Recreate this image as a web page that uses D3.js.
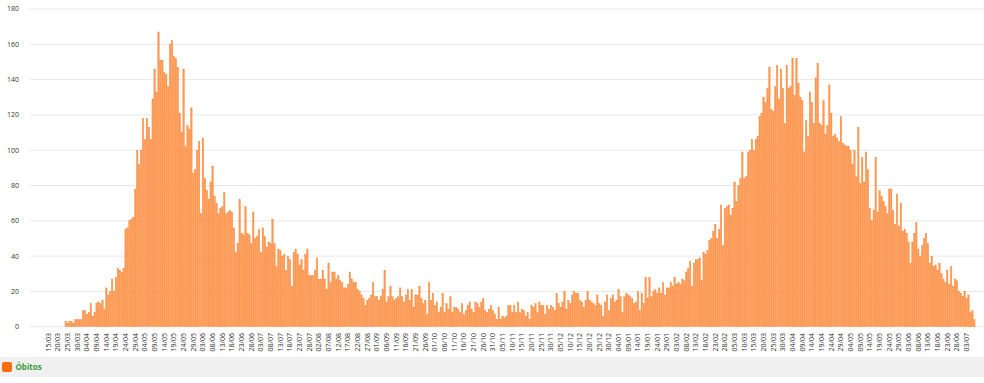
<!DOCTYPE html>
<html><head><meta charset="utf-8">
<script src="https://cdn.jsdelivr.net/npm/d3@7"></script>
<style>
body{margin:0;background:#fff;}
svg{display:block;font-family:"Open Sans",sans-serif;}
</style>
</head><body>
<svg id="chart" width="984" height="383"></svg>
<script>
// ---- data ----
const startDate = "2020-03-15";
const seriesName = "Óbitos";
const leadIn = [0,0,0,0,0,0,0,0,0];
const wave1 = [3,2,3,3,2,4,4,4,4,9,
  9,7,8,13,6,8,13,14,13,15,
  10,22,18,20,27,20,28,33,32,31,
  33,55,56,60,61,62,78,100,92,100,
  118,106,118,113,106,129,146,133,167,151,
  151,144,143,136,160,162,153,152,147,121,
  110,146,102,114,112,124,87,89,100,105,
  64,107,84,77,72,82,91,74,70,64,
  67,68,76,64,65,66,65,56,42,47,72,
  53,52,68,53,52,47,65,50,51,55,
  42,56,51,45,48,47,61,47,34,44,43,
  40,41,32,40,38,23,42,44,41,35,38,
  32,41,44,29,29,29,32,39,27,27,
  32,27,21,36,25];
const lull = [31,31,27,29,26,25,22,22,24,31,27,25,25,21,20,18,16,12,15,16,
  18,25,17,17,15,17,21,32,14,17,23,17,15,16,17,22,17,14,18,21,
  15,21,11,18,18,23,16,13,15,7,25];
const trough = [15,19,12,14,8,11,19,8,13,10,
  17,8,11,11,10,8,13,7,9,12,
  14,10,8,14,13,11,14,16,9,8,
  10,12,9,7,4,11,4,6,5,6,
  12,12,8,12,8,14,8,10,9,6,
  8,4,12,11,13,8,14,12,12,7,
  12,10,12,11,9,19,13,11,14,20,
  10,15,13,18,20,19];
const rise = [19,15,14,11,15,20,15,14,13,12,
  18,13,12,6,14,18,9,16,18,14,
  15,21,17,8,17,19,18,17,16,13,
  14,20,9,19,13,28,16,28,17,20,
  21,19,22,19,25,18,22,22,25,23,
  28,24,25,24,27,26,31,33,37,23,
  36,38,38,39,26,42,41,43,49,50,54,58,50,55,69,46,67];
const wave2 = [68,69,63,67,82,71,80,84,99,84,
  85,99,100,106,100,106,108,119,121,130,
  127,135,147,123,122,136,148,129,146,135,
  115,148,135,136,152,131,152,138,130,128,
  99,117,108,133,127,115,141,149,115,114,
  128,109,114,137,121,108,109,107,105,119,
  104,103,102,102,100,92];
const tail = [100,85,113,81,96,82,99,89,67,60,66,96,65,77,74,71,68,64,78,78,66,58,75,57,
  70,54,55,53,48,36,48,53,59,44,40,46,50,53,47,
  36,40,34,35,32,36,30,27,25,32,24,34,23,27,26,20,19,17,20,16,18,8,9,4];
const yTicks = [0,20,40,60,80,100,120,140,160,180];

const values = [].concat(leadIn, wave1, lull, trough, rise, wave2, tail);

// ---- chart ----
const W = 984, H = 383;
const svg = d3.select("#chart");
const start = d3.timeParse("%Y-%m-%d")(startDate);
const fmt = d3.timeFormat("%d/%m");
const categories = values.map((_, i) => fmt(d3.timeDay.offset(start, i)));

const x = d3.scalePoint().domain(d3.range(values.length)).range([48.3, 974.3]);
const bw = x.step() * 0.78;
const y = d3.scaleLinear().domain([0, 180]).range([326.7, 9]);

// grid + y labels
const g = svg.append("g");
g.selectAll("line.grid").data(yTicks).join("line")
  .attr("x1", 30).attr("x2", W)
  .attr("y1", d => y(d)).attr("y2", d => y(d))
  .attr("stroke", "#e8e8e8").attr("stroke-width", 1);
g.selectAll("text.yl").data(yTicks).join("text")
  .attr("x", 19).attr("y", d => y(d)).attr("dy", "0.35em")
  .attr("text-anchor", "end").attr("font-size", 7).attr("fill", "#333")
  .text(d => d);

// bars
svg.append("g").selectAll("rect").data(values).join("rect")
  .attr("x", (d, i) => x(i) - bw / 2)
  .attr("width", bw)
  .attr("y", d => y(d))
  .attr("height", d => y(0) - y(d))
  .attr("fill", "#ff9a55")
  .attr("stroke", "#f58232").attr("stroke-width", 0.35);

// x labels
const tickIdx = d3.range(0, values.length, 5);
svg.append("g").selectAll("text").data(tickIdx).join("text")
  .attr("transform", i => `translate(${x(i)},333) rotate(-90)`)
  .attr("text-anchor", "end").attr("dy", "0.35em")
  .attr("font-size", 7).attr("fill", "#333")
  .text(i => categories[i]);

// legend
svg.append("rect").attr("x", 0).attr("y", 357).attr("width", W).attr("height", 20).attr("fill", "#f0f0f0");
svg.append("rect").attr("x", 2).attr("y", 362).attr("width", 10).attr("height", 10).attr("rx", 2).attr("fill", "#ff6c10");
svg.append("text").attr("x", 15.5).attr("y", 370).attr("font-size", 8).attr("font-weight", "bold")
  .attr("fill", "#3a9a3a").text(seriesName);
</script>
</body></html>
